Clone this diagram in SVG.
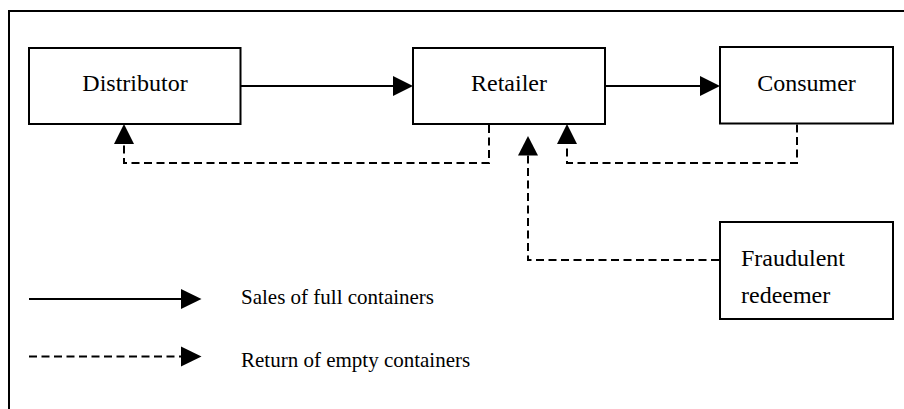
<svg xmlns="http://www.w3.org/2000/svg" width="904" height="409" viewBox="0 0 904 409">
<style>
  .box { fill: #fff; stroke: #000; stroke-width: 2; }
  .lbl { font-family: "Liberation Serif", "Times New Roman", serif; font-size: 24px; fill: #000; }
  .leg { font-family: "Liberation Serif", "Times New Roman", serif; font-size: 21px; fill: #000; }
  .solid { fill: none; stroke: #000; stroke-width: 2; }
  .dash { fill: none; stroke: #000; stroke-width: 2; stroke-dasharray: 8 4.5; }
  .head { fill: #000; stroke: none; }
</style>
<rect width="904" height="409" fill="#fff"/>
<g id="frame">
  <path d="M9,409 V11 H904" fill="none" stroke="#000" stroke-width="2"/>
</g>
<g id="distributor">
  <rect class="box" x="29" y="48" width="211.5" height="76"/>
  <text class="lbl" x="135" y="91" text-anchor="middle">Distributor</text>
</g>
<g id="retailer">
  <rect class="box" x="413" y="48" width="192" height="76"/>
  <text class="lbl" x="509" y="91" text-anchor="middle">Retailer</text>
</g>
<g id="consumer">
  <rect class="box" x="720" y="47" width="173" height="76.5"/>
  <text class="lbl" x="806.5" y="91" text-anchor="middle">Consumer</text>
</g>
<g id="fraudulent">
  <rect class="box" x="720" y="222" width="173" height="97"/>
  <text class="lbl" x="741" y="266">Fraudulent</text>
  <text class="lbl" x="741" y="303">redeemer</text>
</g>
<g id="connectors">
  <line class="solid" x1="240.5" y1="86" x2="394" y2="86"/>
  <polygon class="head" points="393,76 413,86 393,96"/>
  <line class="solid" x1="605" y1="86" x2="701" y2="86"/>
  <polygon class="head" points="700,76 720,86 700,96"/>
  <path class="dash" d="M489,125 V163 H124 V144"/>
  <polygon class="head" points="114,144 124,124 134,144"/>
  <path class="dash" d="M797,124.5 V163 H567 V144"/>
  <polygon class="head" points="557,144 567,124 577,144"/>
  <path class="dash" d="M719,260 H528 V155"/>
  <polygon class="head" points="518,155.5 528,136 538,155.5"/>
</g>
<g id="legend">
  <line class="solid" x1="29" y1="299" x2="182" y2="299"/>
  <polygon class="head" points="181,289 201.5,299 181,309"/>
  <text class="leg" x="241" y="303.5">Sales of full containers</text>
  <line class="dash" x1="29" y1="356.5" x2="182" y2="356.5"/>
  <polygon class="head" points="181,346.5 201.5,356.5 181,366.5"/>
  <text class="leg" x="241" y="367">Return of empty containers</text>
</g>
</svg>
